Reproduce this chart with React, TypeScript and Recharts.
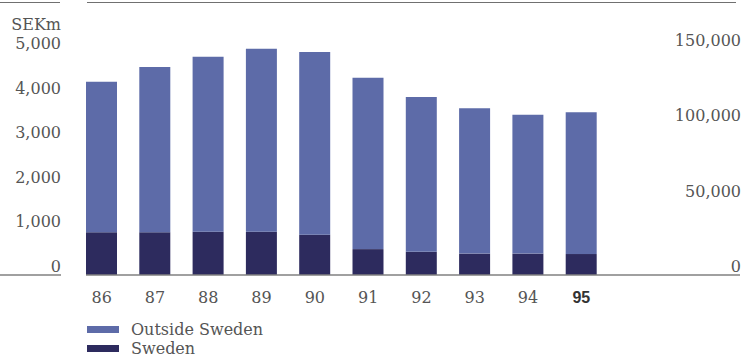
import { BarChart, Bar, XAxis, YAxis, Legend } from 'recharts'

const years = ['86', '87', '88', '89', '90', '91', '92', '93', '94', '95']
const sweden = [960, 960, 970, 970, 900, 580, 520, 480, 480, 470]
const outsideSweden = [3370, 3700, 3920, 4100, 4100, 3840, 3470, 3260, 3110, 3180]
const leftTicks = [0, 1000, 2000, 3000, 4000, 5000]
const rightTicks = [0, 50000, 100000, 150000]

const SERIF = 'DejaVu Serif'
const TEXT = '#555'
const RULE = '#808080'
const DARK = '#2d2b5e'
const LIGHT = '#5d6ba8'

const data = years.map((year, i) => ({ year, sweden: sweden[i], outside: outsideSweden[i] }))

const fmt = (v: number) => v.toLocaleString('en-US')

function LeftTick({ x, y, payload }: any) {
  return (
    <g>
      {payload.value === 0 && <line x1={0} x2={x} y1={y} y2={y} stroke={RULE} strokeWidth={1.5} />}
      <text x={x} y={y} dy={-3} textAnchor="end" fontFamily={SERIF} fontSize={16} fill={TEXT}>
        {fmt(payload.value)}
      </text>
    </g>
  )
}

function RightTick({ x, y, payload }: any) {
  return (
    <text x={x} y={y} dy={-3} textAnchor="end" fontFamily={SERIF} fontSize={16} fill={TEXT}>
      {fmt(payload.value)}
    </text>
  )
}

function YearTick({ x, y, payload }: any) {
  const current = payload.value === '95'
  return (
    <text
      x={x}
      y={y}
      dy="0.71em"
      textAnchor="middle"
      fontFamily={current ? 'Liberation Sans' : SERIF}
      fontWeight={current ? 700 : 400}
      fontSize={16}
      fill={current ? '#333' : TEXT}
    >
      {payload.value}
    </text>
  )
}

// Outside Sweden listed first, Sweden below it
function LegendList({ payload }: any) {
  const items = [...(payload ?? [])].sort((a: any) => (a.value === 'Outside Sweden' ? -1 : 1))
  return (
    <div style={{ height: 38 }}>
      {items.map((item: any) => (
        <div key={item.value} style={{ display: 'flex', alignItems: 'center', height: 19 }}>
          <span style={{ display: 'inline-block', width: 32, height: 7, background: item.color, marginRight: 12 }} />
          <span style={{ fontFamily: SERIF, fontSize: 16, color: TEXT, lineHeight: '19px' }}>{item.value}</span>
        </div>
      ))}
    </div>
  )
}

export default function App() {
  return (
    <div style={{ position: 'absolute', left: 0, top: 0, width: 746, height: 358, background: '#fff' }}>
      {/* page rules above the chart */}
      <div style={{ position: 'absolute', left: 0, top: 2, width: 60, borderTop: '1.5px solid #707070' }} />
      <div style={{ position: 'absolute', left: 87, top: 2, width: 649, borderTop: '1.5px solid #707070' }} />
      <BarChart width={746} height={358} data={data} margin={{ top: 43, right: 0, bottom: 15, left: 0 }}>
        <XAxis
          dataKey="year"
          height={30}
          interval={0}
          tickSize={0}
          tickMargin={17}
          tickLine={false}
          axisLine={{ stroke: RULE, strokeWidth: 1.5 }}
          padding={{ left: -11, right: 132 }}
          tick={<YearTick />}
        />
        <YAxis
          yAxisId="left"
          width={86}
          domain={[0, 5200]}
          ticks={leftTicks}
          tickSize={0}
          tickMargin={25}
          tickLine={false}
          axisLine={false}
          tick={<LeftTick />}
          label={({ viewBox }: any) => (
            <text x={viewBox.x + 61} y={viewBox.y - 13} textAnchor="end" fontFamily={SERIF} fontSize={16} fill={TEXT}>
              SEKm
            </text>
          )}
        />
        <YAxis
          yAxisId="right"
          orientation="right"
          type="number"
          width={6}
          domain={[0, 154000]}
          allowDataOverflow
          ticks={rightTicks}
          tickSize={0}
          tickMargin={1}
          tickLine={false}
          axisLine={false}
          tick={<RightTick />}
        />
        <Legend
          verticalAlign="bottom"
          content={<LegendList />}
          wrapperStyle={{ left: 87, top: 320 }}
        />
        <Bar yAxisId="left" dataKey="sweden" name="Sweden" stackId="sales" fill={DARK} barSize={31} isAnimationActive={false} />
        <Bar yAxisId="left" dataKey="outside" name="Outside Sweden" stackId="sales" fill={LIGHT} barSize={31} isAnimationActive={false} />
      </BarChart>
    </div>
  )
}
